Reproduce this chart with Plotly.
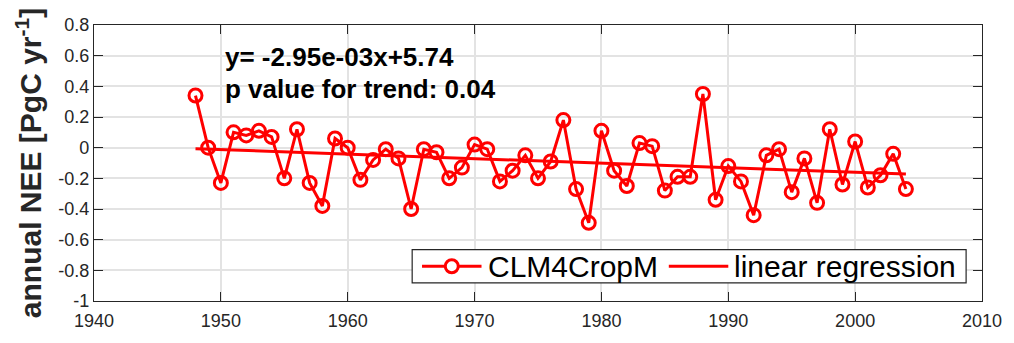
import plotly.graph_objects as go

# Annual net ecosystem exchange, CLM4CropM run
years = list(range(1948, 2005))
nee = [0.34, 0.00, -0.23, 0.10, 0.08, 0.11, 0.07, -0.20, 0.12, -0.23,
       -0.38, 0.06, 0.00, -0.21, -0.08, -0.01, -0.07, -0.40, -0.01, -0.03,
       -0.20, -0.13, 0.02, -0.01, -0.22, -0.15, -0.05, -0.20, -0.09, 0.18,
       -0.27, -0.49, 0.11, -0.15, -0.25, 0.03, 0.01, -0.28, -0.19, -0.19,
       0.35, -0.34, -0.12, -0.22, -0.44, -0.05, -0.01, -0.29, -0.07, -0.36,
       0.12, -0.24, 0.04, -0.26, -0.18, -0.04, -0.27]

# Linear trend coefficients
slope = -2.95e-03
intercept = 5.74
trend = [slope * y + intercept for y in years]

x_ticks = [1940, 1950, 1960, 1970, 1980, 1990, 2000, 2010]
y_ticks = [0.8, 0.6, 0.4, 0.2, 0, -0.2, -0.4, -0.6, -0.8, -1]
y_tick_text = ["0.8", "0.6", "0.4", "0.2", "0", "-0.2", "-0.4", "-0.6", "-0.8", "-1"]

series_names = ["CLM4CropM", "linear regression"]

RED = "#ff0000"
INK = "#262626"
FONT = "Liberation Sans, Arial, sans-serif"

fig = go.Figure()
fig.add_trace(go.Scatter(
    x=years, y=nee, mode="lines+markers", name=series_names[0],
    line=dict(color=RED, width=3),
    marker=dict(symbol="circle-open", size=13, color=RED, line=dict(width=3, color=RED)),
    showlegend=False,
))
fig.add_trace(go.Scatter(
    x=[years[0], years[-1]], y=[trend[0], trend[-1]], mode="lines",
    name=series_names[1], line=dict(color=RED, width=3),
    showlegend=False,
))

# Regression equation and significance
fig.add_annotation(x=1950.15, y=0.59, xref="x", yref="y", xanchor="left", yanchor="middle",
                   text="<b>y= -2.95e-03x+5.74</b>", showarrow=False,
                   font=dict(family=FONT, size=26, color="black"))
fig.add_annotation(x=1950.15, y=0.385, xref="x", yref="y", xanchor="left", yanchor="middle",
                   text="<b>p value for trend: 0.04</b>", showarrow=False,
                   font=dict(family=FONT, size=26, color="black"))

# Boxed legend in the lower right of the axes
leg_y = 0.126
fig.add_shape(type="rect", xref="paper", yref="paper", x0=0.3583, x1=0.9821, y0=0.0655, y1=0.1862,
              fillcolor="white", line=dict(color=INK, width=1.2), layer="above")
fig.add_shape(type="line", xref="paper", yref="paper", x0=0.3694, x1=0.4364, y0=leg_y, y1=leg_y,
              line=dict(color=RED, width=3), layer="above")
fig.add_shape(type="circle", xref="paper", yref="paper", xsizemode="pixel", ysizemode="pixel",
              xanchor=0.4029, yanchor=leg_y, x0=-6.5, x1=6.5, y0=-6.5, y1=6.5,
              fillcolor="white", line=dict(color=RED, width=3), layer="above")
fig.add_annotation(x=0.4420, y=leg_y, xref="paper", yref="paper", xanchor="left", yanchor="middle",
                   text=series_names[0], showarrow=False,
                   font=dict(family=FONT, size=30, color="black"))
fig.add_shape(type="line", xref="paper", yref="paper", x0=0.6473, x1=0.7143, y0=leg_y, y1=leg_y,
              line=dict(color=RED, width=3), layer="above")
fig.add_annotation(x=0.7188, y=leg_y, xref="paper", yref="paper", xanchor="left", yanchor="middle",
                   text=series_names[1], showarrow=False,
                   font=dict(family=FONT, size=30, color="black"))

axis_common = dict(
    showline=True, linecolor=INK, linewidth=1.3, mirror="allticks",
    ticks="inside", ticklen=9, tickcolor=INK,
    showgrid=True, gridcolor="#e3e3e3", gridwidth=1.5, zeroline=False,
    tickfont=dict(family=FONT, size=18, color=INK),
)

fig.update_xaxes(range=[1940, 2010], tickvals=x_ticks, ticklabelstandoff=3, **axis_common)
fig.update_yaxes(range=[-1, 0.8], tickvals=y_ticks, ticktext=y_tick_text,
                 title=dict(text="<b>annual NEE [PgC yr<sup>-1</sup>]</b>",
                            font=dict(family=FONT, size=30, color=INK), standoff=7),
                 **axis_common)

fig.update_layout(
    width=1014, height=343,
    margin=dict(l=94, r=24, t=25, b=28),
    plot_bgcolor="white", paper_bgcolor="white",
    showlegend=False,
)

fig.write_html("out.html")
